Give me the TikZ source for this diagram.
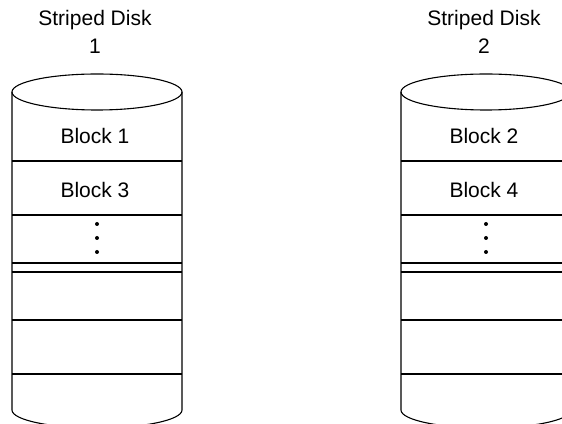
\documentclass[tikz,border=0pt]{standalone}
\usepackage{fontspec}
\setmainfont{Liberation Sans}
\usetikzlibrary{positioning}
\tikzstyle{diskline} = [
    line width=1.1pt,
    draw=black
]
\tikzstyle{caption} = [
    font=\fontsize{21}{28}\selectfont,
    inner sep=0pt,
    anchor=base
]
\tikzstyle{blocktext} = [
    font=\fontsize{21}{25}\selectfont,
    inner sep=0pt,
    anchor=base
]

\begin{document}
\begin{tikzpicture}[x=1pt, y=1pt]
    \useasboundingbox (0,0) rectangle (562,423);
    \clip (0,0) rectangle (562,423);
    \foreach \n/\cx/\a/\b in {1/97/1/3, 2/486/2/4} {
        % disk body
        \draw[diskline] (\cx-85,331) -- (\cx-85,13)
            arc[start angle=180, end angle=360, x radius=85, y radius=18]
            -- (\cx+85,331);
        \draw[diskline] (\cx,331) ellipse [x radius=85, y radius=18];
        \foreach \y in {262,208,160,151,103,49}
            \draw[diskline] (\cx-85,\y) -- (\cx+85,\y);
        % labels
        \node[caption] (title\n) at (\cx-2,397) {Striped Disk};
        \node[caption] (num\n) at ([yshift=-28pt]title\n.base) {\n};
        \node[blocktext] (blk\a) at (\cx-2,279) {Block \a};
        \node[blocktext] (blk\b) at ([yshift=-53.5pt]blk\a.base) {Block \b};
        % dots
        \foreach \y in {199,185,171}
            \fill (\cx,\y) circle (2);
    }
\end{tikzpicture}
\end{document}
